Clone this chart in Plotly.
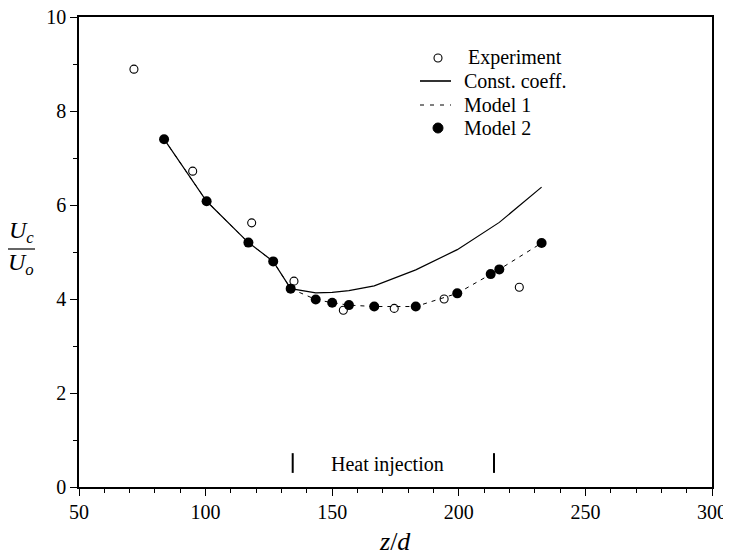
import plotly.graph_objects as go

# ---- data ----
exp_x = [71.7, 94.9, 118.2, 134.9, 154.4, 174.5, 194.2, 223.9]
exp_y = [8.89, 6.72, 5.62, 4.38, 3.76, 3.80, 4.00, 4.25]

model_x = [83.6, 100.4, 116.9, 126.7, 133.6, 143.5, 150.0, 156.6, 166.6, 183.0, 199.4, 212.6, 216.0, 232.7]
model2_y = [7.40, 6.08, 5.20, 4.80, 4.22, 3.99, 3.92, 3.87, 3.84, 3.84, 4.12, 4.53, 4.63, 5.19]
model1_y = [7.40, 6.08, 5.20, 4.80, 4.22, 3.99, 3.92, 3.87, 3.84, 3.84, 4.12, 4.53, 4.63, 5.19]
const_y = [7.40, 6.08, 5.20, 4.80, 4.22, 4.13, 4.14, 4.18, 4.28, 4.62, 5.05, 5.50, 5.63, 6.38]

heat_start, heat_end = 134.4, 213.9
heat_bar_y = [0.30, 0.72]
heat_label_x, heat_label_y = 172.0, 0.47

x_ticks = [50, 100, 150, 200, 250, 300]
y_ticks = [0, 2, 4, 6, 8, 10]

legend_names = ["Experiment", "Const. coeff.", "Model 1", "Model 2"]

FONT = "Liberation Serif"

# page has an 8px body margin; figure fills the rest of the 731x558 window
OFF = 8
W, H = 731 - OFF, 558 - OFF
# plot area in page pixels: left 79, right 712, top 17, bottom 487
L, R, T, B = 79 - OFF, W - (712 - OFF), 17 - OFF, H - (487 - OFF)
pw, ph = W - L - R, H - T - B


def px2paper(px, py):
    """page pixel -> paper coordinate"""
    return (px - OFF - L) / pw, (H - B - (py - OFF)) / ph


fig = go.Figure()
fig.add_trace(go.Scatter(x=exp_x, y=exp_y, mode="markers", name=legend_names[0], showlegend=False,
                         marker=dict(symbol="circle-open", size=8, color="black", line=dict(width=1.1))))
fig.add_trace(go.Scatter(x=model_x, y=const_y, mode="lines", name=legend_names[1], showlegend=False,
                         line=dict(color="black", width=1.2)))
fig.add_trace(go.Scatter(x=model_x, y=model1_y, mode="lines", name=legend_names[2], showlegend=False,
                         line=dict(color="black", width=1, dash="4px,5px")))
fig.add_trace(go.Scatter(x=model_x, y=model2_y, mode="markers", name=legend_names[3], showlegend=False,
                         marker=dict(symbol="circle", size=10, color="black")))

# heat injection markers
for hx in (heat_start, heat_end):
    fig.add_shape(type="line", xref="x", yref="y", x0=hx, x1=hx, y0=heat_bar_y[0], y1=heat_bar_y[1],
                  line=dict(color="black", width=2))
fig.add_annotation(x=heat_label_x, y=heat_label_y, xref="x", yref="y", text="Heat injection",
                   showarrow=False, font=dict(family=FONT, size=20, color="black"))

# ---- manual legend ----
rows_y = [58, 81, 105, 128]
text_x = [466, 462, 462, 462]
sym_cx = 438
for name, ry, tx in zip(legend_names, rows_y, text_x):
    ax, ay = px2paper(tx, ry)
    fig.add_annotation(x=ax, y=ay, xref="paper", yref="paper", text=name, showarrow=False,
                       xanchor="left", yanchor="middle", font=dict(family=FONT, size=20, color="black"))
cx, cy = px2paper(sym_cx, rows_y[0])
fig.add_shape(type="circle", xref="paper", yref="paper", xsizemode="pixel", ysizemode="pixel",
              xanchor=cx, yanchor=cy, x0=-4, x1=4, y0=-4, y1=4, line=dict(color="black", width=1.1))
lx0, ly = px2paper(420, rows_y[1])
lx1, _ = px2paper(451, rows_y[1])
fig.add_shape(type="line", xref="paper", yref="paper", x0=lx0, x1=lx1, y0=ly, y1=ly,
              line=dict(color="black", width=1.6))
_, ly2 = px2paper(420, rows_y[2])
fig.add_shape(type="line", xref="paper", yref="paper", x0=lx0, x1=lx1, y0=ly2, y1=ly2,
              line=dict(color="black", width=1, dash="4px,6px"))
cx2, cy2 = px2paper(sym_cx, rows_y[3])
fig.add_shape(type="circle", xref="paper", yref="paper", xsizemode="pixel", ysizemode="pixel",
              xanchor=cx2, yanchor=cy2, x0=-5, x1=5, y0=-5, y1=5, fillcolor="black",
              line=dict(color="black", width=1))

# ---- y-axis label drawn as a fraction ----
ux, uy_top = px2paper(21, 232)
_, uy_bot = px2paper(21, 264)
_, bar_y = px2paper(21, 249)
fig.add_annotation(x=ux, y=uy_top, xref="paper", yref="paper", text="<i>U<sub>c</sub></i>", showarrow=False,
                   xanchor="center", yanchor="middle", font=dict(family=FONT, size=24, color="black"))
fig.add_annotation(x=ux, y=uy_bot, xref="paper", yref="paper", text="<i>U<sub>o</sub></i>", showarrow=False,
                   xanchor="center", yanchor="middle", font=dict(family=FONT, size=24, color="black"))
x0p, _ = px2paper(7, 249)
x1p, _ = px2paper(35, 249)
fig.add_shape(type="line", xref="paper", yref="paper", x0=x0p, x1=x1p, y0=bar_y, y1=bar_y,
              line=dict(color="black", width=1.2))

# ---- x-axis title ----
tx_, ty_ = px2paper(395, 541)
fig.add_annotation(x=tx_, y=ty_, xref="paper", yref="paper", text="<i>z</i>/<i>d</i>", showarrow=False,
                   xanchor="center", yanchor="middle", font=dict(family=FONT, size=26, color="black"))

axis_common = dict(showline=True, linecolor="black", linewidth=1.5, mirror=True, ticks="outside",
                   ticklen=7, tickwidth=1.2, tickcolor="black", showgrid=False, zeroline=False,
                   automargin=False, ticklabeloverflow="allow",
                   tickfont=dict(family=FONT, size=20, color="black"))

fig.update_xaxes(range=[50, 300], tickvals=x_ticks, ticktext=[str(v) for v in x_ticks],
                 ticklabelstandoff=-1,
                 minor=dict(dtick=10, ticks="outside", ticklen=4, tickcolor="black", showgrid=False),
                 **axis_common)
fig.update_yaxes(range=[0, 10], tickvals=y_ticks, ticktext=[str(v) for v in y_ticks],
                 ticklabelstandoff=0,
                 minor=dict(dtick=1, ticks="outside", ticklen=4, tickcolor="black", showgrid=False),
                 **axis_common)

fig.update_layout(width=W, height=H, margin=dict(l=L, r=R, t=T, b=B, autoexpand=False),
                  paper_bgcolor="white", plot_bgcolor="white", showlegend=False,
                  font=dict(family=FONT, size=20, color="black"))

fig.write_html("out.html")
